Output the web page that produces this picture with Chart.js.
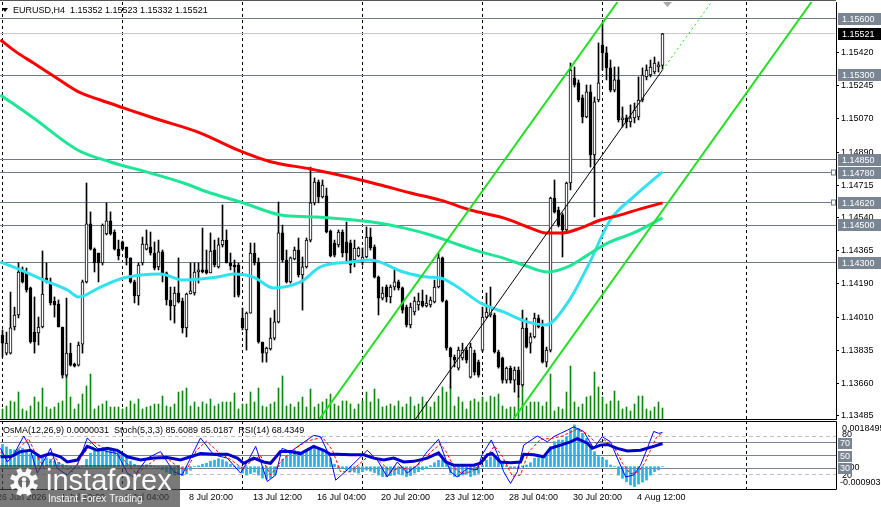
<!DOCTYPE html>
<html>
<head>
<meta charset="utf-8">
<title>EURUSD,H4</title>
<script src="https://cdn.jsdelivr.net/npm/chart.js@4.4.1/dist/chart.umd.min.js"></script>
<style>
  html, body { margin: 0; padding: 0; background: #fff; overflow: hidden; }
  #wrap { position: relative; width: 881px; height: 507px; }
  canvas { position: absolute; left: 0; }
  #main { top: 0; }
  #osc { top: 420px; }
</style>
</head>
<body>
<div id="wrap">
  <canvas id="main" width="881" height="420"></canvas>
  <canvas id="osc" width="881" height="87"></canvas>
</div>
<script>
// EURUSD H4 candles, index 0 = leftmost bar on screen, 165 = last bar
const openP = [
  1.13916, 1.13820, 1.13820, 1.13959, 1.14023, 1.14263, 1.14252, 1.14167, 1.13932, 1.13927,
  1.13959, 1.14220, 1.14199, 1.14097, 1.14081, 1.13959, 1.13703, 1.13820, 1.13762, 1.13756,
  1.13868, 1.14199, 1.14508, 1.14374, 1.14353, 1.14300, 1.14455, 1.14524, 1.14465, 1.14374,
  1.14412, 1.14385, 1.14327, 1.14199, 1.14124, 1.14300, 1.14374, 1.14385, 1.14353, 1.14279,
  1.14359, 1.14247, 1.14103, 1.14071, 1.14140, 1.14097, 1.13954, 1.14135, 1.14140, 1.14252,
  1.14263, 1.14263, 1.14247, 1.14369, 1.14279, 1.14396, 1.14422, 1.14300, 1.14289, 1.14289,
  1.14007, 1.13943, 1.14033, 1.14353, 1.14305, 1.13879, 1.13820, 1.13842, 1.13900, 1.13986,
  1.14460, 1.14316, 1.14199, 1.14321, 1.14369, 1.14236, 1.14279, 1.14422, 1.14620, 1.14731,
  1.14652, 1.14657, 1.14470, 1.14406, 1.14396, 1.14465, 1.14412, 1.14406, 1.14316, 1.14337,
  1.14316, 1.14332, 1.14438, 1.14385, 1.14225, 1.14113, 1.14172, 1.14119, 1.14172, 1.14199,
  1.14167, 1.14065, 1.13970, 1.14039, 1.14076, 1.14097, 1.14071, 1.14076, 1.14092, 1.14172,
  1.14327, 1.14097, 1.13847, 1.13799, 1.13740, 1.13794, 1.13836, 1.13692, 1.13820, 1.13772,
  1.13836, 1.14012, 1.14023, 1.14023, 1.13826, 1.13794, 1.13676, 1.13740, 1.13676, 1.13730,
  1.13650, 1.13953, 1.13873, 1.13906, 1.14007, 1.13959, 1.13772, 1.13836, 1.14646, 1.14582,
  1.14556, 1.14476, 1.14726, 1.15285, 1.15259, 1.15179, 1.15078, 1.15211, 1.14875, 1.15168,
  1.15461, 1.15419, 1.15339, 1.15221, 1.15275, 1.15062, 1.15073, 1.15051, 1.15072, 1.15078,
  1.15168, 1.15291, 1.15301, 1.15317, 1.15344, 1.15352
];
const highP = [
  1.13943, 1.13932, 1.14145, 1.14065, 1.14300, 1.14279, 1.14273, 1.14172, 1.14119, 1.14012,
  1.14364, 1.14300, 1.14220, 1.14119, 1.14103, 1.13959, 1.14113, 1.13873, 1.13767, 1.13879,
  1.14209, 1.14726, 1.14572, 1.14380, 1.14353, 1.14508, 1.14620, 1.14572, 1.14476, 1.14422,
  1.14417, 1.14385, 1.14327, 1.14209, 1.14300, 1.14438, 1.14476, 1.14465, 1.14412, 1.14422,
  1.14369, 1.14252, 1.14172, 1.14172, 1.14327, 1.14113, 1.14140, 1.14300, 1.14300, 1.14300,
  1.14486, 1.14369, 1.14460, 1.14422, 1.14433, 1.14609, 1.14476, 1.14353, 1.14316, 1.14300,
  1.14060, 1.14039, 1.14406, 1.14406, 1.14327, 1.13879, 1.13852, 1.14007, 1.14049, 1.14625,
  1.14502, 1.14369, 1.14332, 1.14385, 1.14433, 1.14332, 1.14433, 1.14811, 1.14753, 1.14742,
  1.14742, 1.14699, 1.14476, 1.14422, 1.14476, 1.14476, 1.14518, 1.14422, 1.14422, 1.14385,
  1.14380, 1.14492, 1.14486, 1.14396, 1.14231, 1.14172, 1.14183, 1.14183, 1.14273, 1.14209,
  1.14172, 1.14076, 1.14087, 1.14119, 1.14140, 1.14156, 1.14129, 1.14119, 1.14209, 1.14353,
  1.14332, 1.14103, 1.13852, 1.13810, 1.13852, 1.13873, 1.13852, 1.13873, 1.13836, 1.13783,
  1.14065, 1.14140, 1.14172, 1.14033, 1.13836, 1.13799, 1.13746, 1.13751, 1.13746, 1.13746,
  1.14049, 1.14007, 1.13927, 1.14033, 1.14023, 1.13996, 1.13852, 1.14651, 1.14742, 1.14598,
  1.14566, 1.14731, 1.15365, 1.15344, 1.15275, 1.15195, 1.15248, 1.15248, 1.15184, 1.15472,
  1.15580, 1.15451, 1.15381, 1.15344, 1.15344, 1.15131, 1.15088, 1.15142, 1.15152, 1.15291,
  1.15339, 1.15355, 1.15381, 1.15397, 1.15371, 1.15523
];
const lowP = [
  1.13799, 1.13810, 1.13815, 1.13943, 1.14007, 1.14193, 1.14145, 1.13873, 1.13820, 1.13863,
  1.13954, 1.14193, 1.14076, 1.14012, 1.13959, 1.13687, 1.13692, 1.13751, 1.13746, 1.13751,
  1.13820, 1.14193, 1.14369, 1.14252, 1.14199, 1.14289, 1.14449, 1.14449, 1.14369, 1.14316,
  1.14369, 1.14289, 1.14193, 1.14087, 1.14076, 1.14289, 1.14369, 1.14342, 1.14263, 1.14263,
  1.14199, 1.14076, 1.13996, 1.13980, 1.14087, 1.13927, 1.13906, 1.14135, 1.14129, 1.14193,
  1.14247, 1.14241, 1.14247, 1.14279, 1.14273, 1.14385, 1.14300, 1.14263, 1.14119, 1.14119,
  1.13943, 1.13836, 1.14033, 1.14289, 1.13873, 1.13772, 1.13772, 1.13836, 1.13890, 1.13980,
  1.14305, 1.14193, 1.14193, 1.14316, 1.14225, 1.14049, 1.14273, 1.14412, 1.14609, 1.14620,
  1.14646, 1.14460, 1.14332, 1.14332, 1.14385, 1.14332, 1.14300, 1.14247, 1.14279, 1.14332,
  1.14289, 1.14327, 1.14369, 1.14220, 1.14023, 1.14103, 1.14092, 1.14087, 1.14156, 1.14156,
  1.14033, 1.13959, 1.13954, 1.14023, 1.14049, 1.14065, 1.14065, 1.14065, 1.14087, 1.14167,
  1.14092, 1.13836, 1.13634, 1.13746, 1.13730, 1.13783, 1.13767, 1.13687, 1.13703, 1.13692,
  1.13826, 1.14007, 1.14012, 1.13820, 1.13740, 1.13660, 1.13660, 1.13660, 1.13612, 1.13586,
  1.13644, 1.13847, 1.13820, 1.13900, 1.13954, 1.13767, 1.13746, 1.13826, 1.14566, 1.14492,
  1.14332, 1.14465, 1.14689, 1.15237, 1.15158, 1.15046, 1.15073, 1.14811, 1.14545, 1.15158,
  1.15328, 1.15275, 1.15211, 1.15211, 1.15051, 1.15024, 1.15019, 1.15024, 1.15046, 1.15062,
  1.15158, 1.15275, 1.15291, 1.15307, 1.15317, 1.15332
];
const closeP = [
  1.13873, 1.13873, 1.13954, 1.14023, 1.14252, 1.14199, 1.14156, 1.13879, 1.13879, 1.13959,
  1.14135, 1.14199, 1.14087, 1.14076, 1.13959, 1.13703, 1.13820, 1.13756, 1.13751, 1.13863,
  1.14199, 1.14508, 1.14374, 1.14300, 1.14300, 1.14502, 1.14524, 1.14455, 1.14374, 1.14337,
  1.14374, 1.14327, 1.14199, 1.14124, 1.14289, 1.14401, 1.14401, 1.14353, 1.14273, 1.14359,
  1.14247, 1.14103, 1.14071, 1.14140, 1.14092, 1.13954, 1.14135, 1.14151, 1.14252, 1.14263,
  1.14252, 1.14247, 1.14364, 1.14289, 1.14396, 1.14422, 1.14300, 1.14284, 1.14279, 1.14129,
  1.13954, 1.14033, 1.14353, 1.14300, 1.13879, 1.13820, 1.13847, 1.13900, 1.13986, 1.14460,
  1.14316, 1.14199, 1.14327, 1.14369, 1.14236, 1.14279, 1.14422, 1.14620, 1.14731, 1.14652,
  1.14715, 1.14465, 1.14337, 1.14342, 1.14465, 1.14353, 1.14353, 1.14289, 1.14380, 1.14380,
  1.14332, 1.14438, 1.14380, 1.14225, 1.14113, 1.14140, 1.14119, 1.14172, 1.14199, 1.14167,
  1.14049, 1.13970, 1.14065, 1.14097, 1.14097, 1.14071, 1.14087, 1.14103, 1.14172, 1.14327,
  1.14097, 1.13847, 1.13799, 1.13783, 1.13836, 1.13836, 1.13783, 1.13852, 1.13719, 1.13703,
  1.14012, 1.14039, 1.14065, 1.13826, 1.13746, 1.13676, 1.13740, 1.13676, 1.13730, 1.13650,
  1.13953, 1.13852, 1.13906, 1.14007, 1.13959, 1.13772, 1.13836, 1.14646, 1.14571, 1.14502,
  1.14476, 1.14726, 1.15328, 1.15248, 1.15168, 1.15078, 1.15211, 1.14875, 1.15158, 1.15259,
  1.15419, 1.15339, 1.15221, 1.15275, 1.15062, 1.15073, 1.15051, 1.15073, 1.15115, 1.15168,
  1.15301, 1.15328, 1.15344, 1.15365, 1.15355, 1.15521
];
// tick volume, hundreds
const volumes = [
  10, 13, 18, 17, 27, 10, 8, 13, 22, 17, 31, 12, 10, 12, 16, 18, 45, 22, 10, 15,
  25, 33, 45, 10, 13, 15, 18, 12, 12, 12, 10, 12, 18, 15, 20, 10, 12, 13, 15, 15,
  23, 13, 12, 15, 27, 28, 31, 13, 17, 12, 17, 15, 20, 13, 15, 17, 17, 17, 26, 10,
  15, 15, 27, 17, 31, 13, 12, 15, 17, 31, 43, 13, 15, 12, 17, 22, 12, 30, 12, 15,
  17, 20, 25, 15, 13, 18, 18, 15, 10, 15, 18, 27, 17, 30, 20, 12, 13, 15, 13, 18,
  12, 15, 22, 13, 15, 22, 17, 12, 17, 23, 32, 27, 32, 13, 22, 17, 10, 18, 20, 17,
  22, 17, 23, 22, 25, 13, 10, 12, 12, 23, 37, 13, 17, 17, 17, 13, 17, 45, 8, 12,
  10, 27, 53, 17, 12, 15, 22, 23, 47, 32, 22, 15, 18, 28, 18, 10, 12, 8, 15, 23,
  23, 10, 8, 12, 17, 11
];

// moving averages, read at points along each curve
const maRedBars = [-0.5, 3.75, 7.75, 12.75, 19, 24.5, 30.25, 37.75, 49.5, 58.75, 67, 77, 82.75, 89.5,
  94.5, 102, 109.5, 117, 125.25, 132, 135.75, 140, 144.5, 149.5, 154.5, 159.5, 165];
const maRedVals = [1.15488, 1.15419, 1.15365, 1.15296, 1.15211, 1.15168, 1.15126, 1.15072, 1.14992,
  1.14902, 1.14839, 1.14801, 1.14775, 1.14742, 1.14715, 1.14673, 1.14635, 1.14582, 1.14540, 1.14486,
  1.14460, 1.14460, 1.14486, 1.14529, 1.14556, 1.14588, 1.14620];
const maTealBars = [-0.5, 7.75, 18.75, 27, 37, 45.25, 51.25, 59.5, 69.5, 77, 82, 92, 100.25, 107,
  112, 119.5, 125.25, 130.25, 136.25, 141.25, 146.25, 151.25, 157.75, 165];
const maTealVals = [1.15195, 1.15072, 1.14902, 1.14838, 1.14779, 1.14726, 1.14678, 1.14625, 1.14556,
  1.14546, 1.14540, 1.14519, 1.14487, 1.14449, 1.14412, 1.14359, 1.14326, 1.14289, 1.14252, 1.14279,
  1.14342, 1.14406, 1.14460, 1.14540];
const maCyanBars = [-0.5, 4.5, 10.25, 16.25, 19, 24.5, 30.25, 39.5, 45.25, 53.75, 57.75, 62.75, 67.75,
  74.5, 79.5, 87, 92, 100.25, 106.25, 109.5, 113.75, 119.5, 125.25, 131.25, 135.75, 141.25, 146.25,
  152, 157.75, 165];
const maCyanVals = [1.14305, 1.14263, 1.14209, 1.14156, 1.14119, 1.14172, 1.14220, 1.14241, 1.14209,
  1.14225, 1.14241, 1.14225, 1.14167, 1.14199, 1.14279, 1.14305, 1.14316, 1.14252, 1.14225, 1.14220,
  1.14172, 1.14087, 1.14039, 1.13986, 1.13970, 1.14087, 1.14279, 1.14530, 1.14652, 1.14785];

// regression channel, end points [bar, price]
const chanUpper = [[79.25, 1.13469], [153.75, 1.15690]];
const chanLower = [[127.75, 1.13469], [202.25, 1.15690]];
const chanMid = [[103.25, 1.13469], [165, 1.15328]];
const chanMidRay = [[165, 1.15328], [177.25, 1.15690]];

// horizontal levels and price scale
const levelPrices = [1.15600, 1.15300, 1.14850, 1.14780, 1.14620, 1.14500, 1.14300];
const levelMarks = [1.14780, 1.14620];
const lastPrice = 1.15521;
const yTickVals = [1.15420, 1.15245, 1.15070, 1.14890, 1.14715, 1.14540, 1.14365, 1.14190,
  1.14010, 1.13835, 1.13660, 1.13485];
const gridBars = [0, 30, 60, 90, 120, 150, 186];
const xTickBars = [-2, 14, 30, 46, 62, 78, 94, 110, 126, 142, 158];
const xTickLabels = ['26 Jun 2026', '1 Jul 12:00', '6 Jul 04:00', '8 Jul 20:00', '13 Jul 12:00',
  '16 Jul 04:00', '20 Jul 20:00', '23 Jul 12:00', '28 Jul 04:00', '30 Jul 20:00', '4 Aug 12:00'];

// OsMA(12,26,9) histogram, one value per bar
const osma = [
  0.00090, 0.00080, 0.00070, 0.00068, 0.00072, 0.00074, 0.00063, 0.00052, 0.00045, 0.00042,
  0.00040, 0.00036, 0.00030, 0.00024, 0.00018, 0.00010, 0.00004, -0.00004, -0.00008, -0.00006,
  0.00002, 0.00030, 0.00055, 0.00070, 0.00074, 0.00076, 0.00078, 0.00075, 0.00070, 0.00062,
  0.00050, 0.00038, 0.00022, 0.00010, 0.00004, 0.00006, 0.00008, 0.00005, 0.00002, -0.00002,
  -0.00012, -0.00022, -0.00032, -0.00034, -0.00032, -0.00036, -0.00030, -0.00014, 0.00001, 0.00004,
  0.00010, 0.00014, 0.00022, 0.00026, 0.00032, 0.00028, 0.00020, 0.00010, 0.00002, -0.00010,
  -0.00026, -0.00034, -0.00028, -0.00022, -0.00034, -0.00046, -0.00050, -0.00046, -0.00034, 0.00005,
  0.00030, 0.00045, 0.00058, 0.00066, 0.00062, 0.00058, 0.00066, 0.00070, 0.00074, 0.00074,
  0.00068, 0.00054, 0.00034, 0.00010, -0.00004, -0.00007, -0.00014, -0.00018, -0.00022, -0.00026,
  -0.00020, -0.00014, -0.00018, -0.00024, -0.00034, -0.00040, -0.00040, -0.00036, -0.00034, -0.00030,
  -0.00034, -0.00040, -0.00036, -0.00026, -0.00020, -0.00012, -0.00007, 0.00004, 0.00016, 0.00026,
  0.00028, 0.00012, -0.00026, -0.00040, -0.00040, -0.00034, -0.00031, -0.00040, -0.00034, -0.00027,
  0.00006, 0.00026, 0.00040, 0.00036, 0.00026, 0.00014, 0.00004, -0.00004, -0.00007, -0.00004,
  0.00003, 0.00007, 0.00016, 0.00034, 0.00036, 0.00040, 0.00047, 0.00081, 0.00101, 0.00108,
  0.00108, 0.00122, 0.00149, 0.00169, 0.00155, 0.00135, 0.00115, 0.00081, 0.00061, 0.00041,
  0.00036, 0.00027, 0.00007, 0.00001, -0.00034, -0.00047, -0.00061, -0.00074, -0.00081, -0.00070,
  -0.00062, -0.00054, -0.00034, -0.00020, -0.00013, 0.0000031
];
// Stoch(5,3,3) and RSI(14), read at turning points
const stochBars = [-0.5, 1.2, 2.8, 5.3, 6.6, 8.7, 12, 13.7, 16.2, 18.7, 21.2, 23.7, 26.2, 28.7, 31.2,
  32.8, 36.2, 39.5, 42.8, 44.9, 47.4, 49.5, 52.8, 56.2, 59.5, 61.2, 63.3, 66.2, 68.3, 69.9, 72, 77.8,
  79.5, 82, 83.3, 86.2, 91.2, 93.7, 96.2, 98.7, 101.2, 103.7, 106.2, 109, 110.3, 112, 113.7, 116.2,
  118.7, 119.9, 122.2, 123.7, 125.3, 127, 128.7, 130.3, 133.7, 136.2, 137.8, 139.5, 141.2, 142.8,
  145.3, 147.8, 149.9, 152, 153.7, 155.8, 157.8, 159.5, 161.2, 162.8, 164.1, 165];
const stochMain = [61, 40, 51, 80, 66, 23, 61, 30, 20, 35, 77, 61, 56, 53, 23, 17, 46, 56, 25, 20,
  51, 77, 51, 46, 23, 40, 64, 10, 20, 61, 56, 81, 79, 46, 12, 28, 58, 43, 17, 40, 23, 35, 56, 75, 53,
  25, 17, 30, 28, 51, 74, 53, 25, 7, 25, 66, 80, 71, 79, 84, 89, 94, 87, 61, 79, 71, 46, 17, 20, 35,
  61, 87, 84, 85.6089];
const signalBars = [-0.5, 2, 4, 6.5, 8.5, 10.5, 13, 15, 17.5, 20, 22.5, 25, 28, 30.5, 33.5, 36.5, 40,
  43.5, 46, 48.5, 51, 54, 57, 60, 62, 64.5, 67, 69.5, 72.5, 76, 80, 82.5, 84.5, 87, 92, 94.5, 97, 99.5,
  102, 104.5, 107, 109.5, 111, 113, 115, 117.5, 120.5, 123, 125, 127.5, 129.5, 131.5, 134.5, 137, 140,
  143.5, 146, 148.5, 150.5, 153, 155, 157, 159, 160.5, 162, 163.5, 165];
const stochSignal = [55, 45, 60, 76, 50, 30, 48, 33, 25, 50, 72, 62, 56, 42, 22, 36, 52, 34, 27, 58,
  72, 55, 44, 30, 40, 50, 20, 40, 58, 72, 78, 58, 25, 25, 52, 40, 25, 32, 28, 38, 55, 68, 55, 30, 22,
  26, 42, 65, 48, 18, 20, 55, 75, 76, 80, 90, 84, 68, 74, 62, 38, 22, 25, 38, 58, 78, 85.0187];
const rsiBars = [-0.5, 2, 4.5, 7, 9.5, 12, 14.5, 16.2, 18.7, 21.2, 23.7, 26.2, 28.7, 31.2, 34.5, 37.8,
  41.2, 44.5, 47, 49.5, 52.8, 56.2, 58.7, 60.3, 62.8, 65.3, 67, 69.5, 72, 74.5, 77.8, 80.3, 82, 83.7,
  87, 90.3, 92.8, 95.3, 97.8, 100.3, 102.8, 106.2, 109, 110.8, 112.8, 115.3, 117.8, 119.5, 121.2,
  122.4, 124.5, 127, 129.5, 130.3, 132.8, 135.3, 137, 139.5, 142, 143.7, 146.2, 147.4, 149.5, 151.2,
  153.7, 156.2, 159.5, 162.8, 165];
const rsiVals = [48, 48, 56, 58, 48, 53, 48, 40, 43, 64, 58, 61, 58, 48, 43, 46, 47, 43, 48, 53, 52,
  52, 46, 38, 46, 40, 38, 56, 56, 53, 64, 58, 52, 52, 51, 51, 46, 43, 46, 40, 41, 46, 54, 40, 35, 35,
  35, 38, 51, 53, 40, 39, 40, 52, 51, 48, 61, 66, 71, 76, 69, 61, 66, 67, 61, 57, 58, 64, 68.4349];
const oscLevels = [80, 70, 50, 30, 20];

const FONT = '"Liberation Sans", Arial, sans-serif';
Chart.defaults.font.family = FONT;
Chart.defaults.font.size = 9;
Chart.defaults.color = '#000';

const X_MIN = -0.625, X_MAX = 208.375;
const last = openP.length - 1;
const pts = (xs, ys) => xs.map((x, i) => ({x: x, y: ys[i]}));
const seg = a => a.map(p => ({x: p[0], y: p[1]}));
const idx = openP.map((_, i) => i);

function crisp(v) { return Math.round(v - 0.5) + 0.5; }

function box(ctx, x, yc, w, h, bg, text, fg) {
  ctx.fillStyle = bg;
  ctx.fillRect(x, Math.round(yc - h / 2), w, h);
  ctx.fillStyle = fg;
  ctx.textBaseline = 'middle';
  ctx.fillText(text, x + 4, Math.round(yc - h / 2) + h / 2 + 0.5);
}

const mainDecor = {
  id: 'mainDecor',
  beforeDatasetsDraw(chart) {
    const {ctx, chartArea: a, scales: {x, y}} = chart;
    ctx.save();
    ctx.lineWidth = 1;
    ctx.strokeStyle = '#000';
    ctx.setLineDash([3, 3]);
    gridBars.forEach(b => {
      const px = x.getPixelForValue(b);
      ctx.beginPath(); ctx.moveTo(px, a.top); ctx.lineTo(px, a.bottom); ctx.stroke();
    });
    ctx.setLineDash([]);
    ctx.strokeStyle = '#c8c8c8';
    let py = crisp(y.getPixelForValue(lastPrice));
    ctx.beginPath(); ctx.moveTo(a.left, py); ctx.lineTo(a.right, py); ctx.stroke();
    ctx.strokeStyle = '#6f7c8c';
    levelPrices.forEach(p => {
      py = crisp(y.getPixelForValue(p));
      ctx.beginPath(); ctx.moveTo(a.left, py); ctx.lineTo(a.right, py); ctx.stroke();
    });
    ctx.restore();
  },
  afterDraw(chart) {
    const {ctx, chartArea: a, scales: {y}} = chart;
    ctx.save();
    ctx.strokeStyle = '#000';
    ctx.lineWidth = 1;
    ctx.beginPath(); ctx.moveTo(0, a.bottom + 0.5); ctx.lineTo(a.right + 1, a.bottom + 0.5); ctx.stroke();
    ctx.strokeStyle = '#555';
    ctx.beginPath(); ctx.moveTo(0, 0.5); ctx.lineTo(a.right, 0.5); ctx.stroke();
    // squares at line ends
    ctx.strokeStyle = '#6f7c8c';
    levelMarks.forEach(p => {
      const py = crisp(y.getPixelForValue(p));
      ctx.fillStyle = '#fff';
      ctx.fillRect(a.right - 4, py - 2, 4, 4);
      ctx.strokeRect(a.right - 4.5, py - 2.5, 4, 5);
    });
    // price labels on the scale
    ctx.font = '9px ' + FONT;
    levelPrices.forEach(p => {
      box(ctx, a.right + 2, y.getPixelForValue(p), 45, 12, '#7a8594', p.toFixed(5), '#fff');
    });
    box(ctx, a.right + 2, y.getPixelForValue(lastPrice), 45, 12, '#000', lastPrice.toFixed(5), '#fff');
    // chart shift marker
    ctx.fillStyle = '#a8a8a8';
    ctx.beginPath(); ctx.moveTo(663, 2); ctx.lineTo(672, 2); ctx.lineTo(667.5, 7); ctx.closePath(); ctx.fill();
    // header
    ctx.fillStyle = '#000';
    ctx.beginPath(); ctx.moveTo(2, 8); ctx.lineTo(8, 8); ctx.lineTo(5, 12); ctx.closePath(); ctx.fill();
    ctx.textBaseline = 'alphabetic';
    ctx.fillText('EURUSD,H4  ' + openP[last].toFixed(5) + ' ' + highP[last].toFixed(5) + ' ' +
      lowP[last].toFixed(5) + ' ' + closeP[last].toFixed(5), 13, 13);
    ctx.restore();
  }
};

new Chart(document.getElementById('main'), {
  type: 'line',
  data: {
    datasets: [
      {type: 'line', data: seg(chanUpper), borderColor: '#1ee01e', borderWidth: 2, pointRadius: 0, order: 0},
      {type: 'line', data: seg(chanLower), borderColor: '#1ee01e', borderWidth: 2, pointRadius: 0, order: 0},
      {type: 'line', data: seg(chanMid), borderColor: '#000', borderWidth: 1, pointRadius: 0, order: 0},
      {type: 'line', data: seg(chanMidRay), borderColor: '#1ee01e', borderWidth: 1, borderDash: [2, 3], pointRadius: 0, order: 0},
      {type: 'line', data: pts(maRedBars, maRedVals), borderColor: '#ff0000', borderWidth: 3, pointRadius: 0,
        cubicInterpolationMode: 'monotone', order: 1},
      {type: 'line', data: pts(maTealBars, maTealVals), borderColor: '#1ee696', borderWidth: 3, pointRadius: 0,
        cubicInterpolationMode: 'monotone', order: 1},
      {type: 'line', data: pts(maCyanBars, maCyanVals), borderColor: '#32e1f0', borderWidth: 3, pointRadius: 0,
        cubicInterpolationMode: 'monotone', order: 1},
      {type: 'bar', data: idx.map(i => ({x: i, y: [Math.min(openP[i], closeP[i]), Math.max(openP[i], closeP[i])]})),
        backgroundColor: idx.map(i => closeP[i] >= openP[i] ? '#fff' : '#000'),
        borderColor: '#000', borderWidth: 1, borderSkipped: false, barThickness: 3, grouped: false, order: 2},
      {type: 'bar', data: idx.map(i => ({x: i, y: [lowP[i], highP[i]]})),
        backgroundColor: '#000', barThickness: 1, grouped: false, order: 3},
      {type: 'bar', data: idx.map(i => ({x: i, y: volumes[i]})), yAxisID: 'yv',
        backgroundColor: '#0a8a0a', barThickness: 1, grouped: false, order: 4}
    ]
  },
  options: {
    responsive: false,
    animation: false,
    devicePixelRatio: 1,
    events: [],
    layout: {padding: {top: 2, bottom: 1, left: 0, right: 0}},
    plugins: {legend: {display: false}, tooltip: {enabled: false}},
    scales: {
      x: {type: 'linear', min: X_MIN, max: X_MAX, offset: false, display: false},
      y: {
        type: 'linear', position: 'right', min: 1.13469, max: 1.15690, beginAtZero: false,
        afterBuildTicks: s => { s.ticks = yTickVals.map(v => ({value: v})); },
        afterFit: s => { s.width = 45; s.paddingTop = 0; s.paddingBottom = 0; },
        ticks: {autoSkip: false, padding: 2, color: '#000', font: {size: 9},
          callback: v => Number(v).toFixed(5)},
        grid: {drawOnChartArea: false, drawTicks: true, tickLength: 3, color: '#000'},
        border: {display: true, color: '#000'}
      },
      yv: {type: 'linear', display: false, min: 0, max: 417}
    }
  },
  plugins: [mainDecor]
});

// ---------- indicator window ----------
const oscDecor = {
  id: 'oscDecor',
  beforeDatasetsDraw(chart) {
    const {ctx, chartArea: a, scales: {x, yo}} = chart;
    ctx.save();
    ctx.lineWidth = 1;
    ctx.strokeStyle = '#000';
    ctx.setLineDash([3, 3]);
    gridBars.forEach(b => {
      const px = x.getPixelForValue(b);
      ctx.beginPath(); ctx.moveTo(px, a.top); ctx.lineTo(px, a.bottom); ctx.stroke();
    });
    oscLevels.forEach(v => {
      const dashed = v === 80 || v === 20;
      ctx.setLineDash(dashed ? [4, 3] : []);
      ctx.strokeStyle = dashed ? '#c0c0c0' : '#7a8594';
      const py = crisp(yo.getPixelForValue(v));
      ctx.beginPath(); ctx.moveTo(a.left, py); ctx.lineTo(a.right, py); ctx.stroke();
    });
    ctx.restore();
  },
  afterDraw(chart) {
    const {ctx, chartArea: a, scales: {yo}} = chart;
    ctx.save();
    ctx.strokeStyle = '#000';
    ctx.lineWidth = 1;
    ctx.beginPath();
    ctx.moveTo(0, a.top + 0.5); ctx.lineTo(a.right + 0.5, a.top + 0.5);
    ctx.lineTo(a.right + 0.5, a.bottom + 0.5); ctx.lineTo(0, a.bottom + 0.5);
    ctx.stroke();
    ctx.font = '9px ' + FONT;
    ctx.fillStyle = '#000';
    ctx.textBaseline = 'alphabetic';
    ctx.fillText('OsMA(12,26,9) ' + osma[last].toFixed(7) +
      '  Stoch(5,3,3) ' + stochMain[stochMain.length - 1].toFixed(4) + ' ' +
      stochSignal[stochSignal.length - 1].toFixed(4) +
      '  RSI(14) ' + rsiVals[rsiVals.length - 1].toFixed(4), 3, 13);
    ctx.textBaseline = 'middle';
    const lx = a.right + 6;
    ctx.fillText('0.0018495', lx, a.top + 8);
    ctx.fillText('80', lx, yo.getPixelForValue(80) - 1);
    ctx.fillText('0.00', lx, yo.getPixelForValue(30) - 1);
    ctx.fillText('20', lx, yo.getPixelForValue(20) + 1);
    ctx.fillText('-0.000903', a.right + 4, a.bottom - 6);
    [70, 50, 30].forEach(v => {
      const yc = yo.getPixelForValue(v);
      ctx.fillStyle = '#7a8594';
      ctx.fillRect(a.right + 2, Math.round(yc - 5), 14, 11);
      ctx.fillStyle = '#fff';
      ctx.fillText(String(v), a.right + 4, Math.round(yc - 5) + 6);
    });
    // watermark
    ctx.fillStyle = 'rgba(64,64,64,0.7)';
    ctx.fillRect(0, 45, 180, 42);
    const cx = 24, cy = 62;
    ctx.fillStyle = 'rgba(255,255,255,0.95)';
    ctx.beginPath(); ctx.arc(cx, cy, 10, 0, Math.PI * 2); ctx.fill();
    for (let k = 0; k < 8; k++) {
      ctx.save(); ctx.translate(cx, cy); ctx.rotate(k * Math.PI / 4 + Math.PI / 8);
      ctx.fillRect(-2.5, -14, 5, 6);
      ctx.restore();
    }
    ctx.fillStyle = '#6a6a6a';
    ctx.beginPath(); ctx.arc(cx, cy, 6, 0, Math.PI * 2); ctx.fill();
    ctx.fillStyle = 'rgba(255,255,255,0.95)';
    ctx.beginPath(); ctx.arc(cx, cy - 2.5, 2.3, 0, Math.PI * 2); ctx.fill();
    ctx.fillRect(cx - 2, cy, 4, 12);
    ctx.textBaseline = 'alphabetic';
    ctx.font = '29px ' + FONT;
    ctx.fillText('instaforex', 46, 70);
    ctx.font = '10px ' + FONT;
    ctx.fillText('Instant Forex Trading', 48, 82);
    ctx.restore();
  }
};

new Chart(document.getElementById('osc'), {
  type: 'line',
  data: {
    datasets: [
      {type: 'line', data: pts(rsiBars, rsiVals), yAxisID: 'yo', borderColor: '#0000cd', borderWidth: 3,
        pointRadius: 0, order: 0},
      {type: 'line', data: pts(signalBars, stochSignal), yAxisID: 'yo', borderColor: '#ff0000', borderWidth: 1,
        borderDash: [3, 2], pointRadius: 0, order: 1},
      {type: 'line', data: pts(stochBars, stochMain), yAxisID: 'yo', borderColor: '#0000ff', borderWidth: 1,
        pointRadius: 0, order: 2},
      {type: 'bar', data: idx.map(i => ({x: i, y: osma[i]})), yAxisID: 'yh', backgroundColor: '#20b4ea',
        barThickness: 2, grouped: false, order: 5}
    ]
  },
  options: {
    responsive: false,
    animation: false,
    devicePixelRatio: 1,
    events: [],
    layout: {padding: {top: 1, bottom: 0, left: 0, right: 0}},
    plugins: {legend: {display: false}, tooltip: {enabled: false}},
    scales: {
      x: {
        type: 'linear', min: X_MIN, max: X_MAX, offset: false, position: 'bottom',
        afterBuildTicks: s => { s.ticks = xTickBars.map(v => ({value: v})); },
        afterFit: s => { s.height = 18; s.paddingLeft = 0; s.paddingRight = 0; },
        ticks: {autoSkip: false, maxRotation: 0, align: 'start', labelOffset: 2.5, padding: 3,
          color: '#000', font: {size: 9}, callback: (v, i) => xTickLabels[i]},
        grid: {display: false, drawTicks: false},
        border: {display: false}
      },
      yo: {
        type: 'linear', position: 'right', min: -1.54, max: 103.08, beginAtZero: false,
        afterFit: s => { s.width = 45; s.paddingTop = 0; s.paddingBottom = 0; },
        ticks: {display: false}, grid: {display: false}, border: {display: false}
      },
      yh: {type: 'linear', display: false, min: -0.000903, max: 0.0018495, beginAtZero: false}
    }
  },
  plugins: [oscDecor]
});
</script>
</body>
</html>
